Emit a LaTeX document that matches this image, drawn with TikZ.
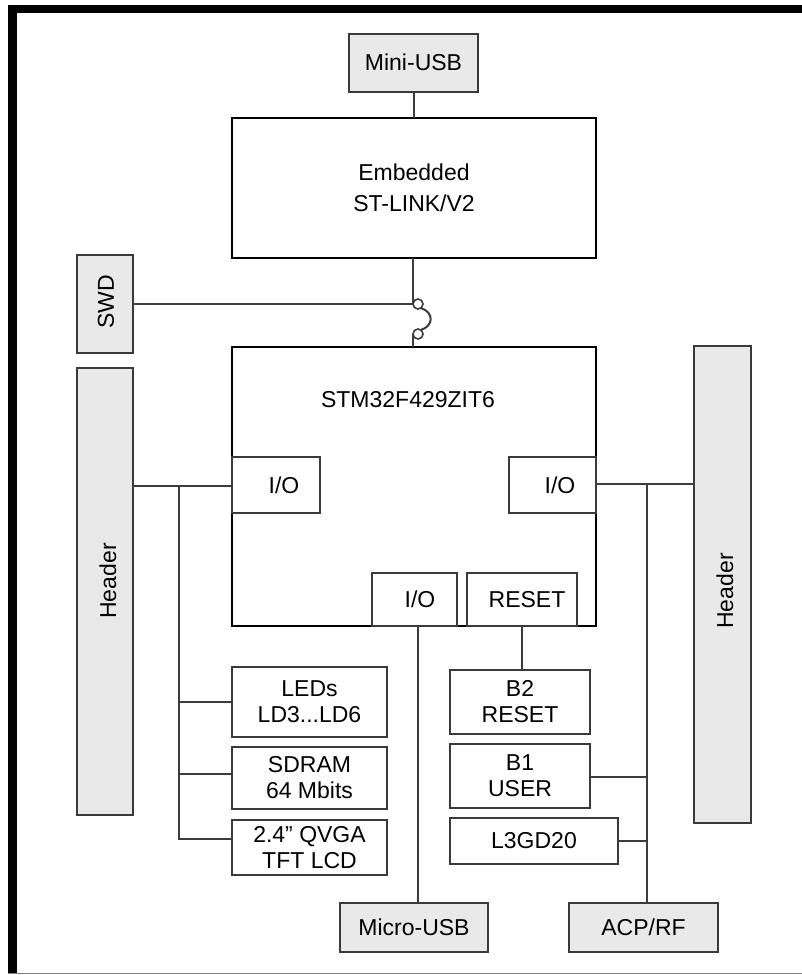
\documentclass[tikz,border=0pt]{standalone}
\usepackage{fontspec}
\setmainfont{Liberation Sans}
\definecolor{boxline}{HTML}{3A3A3A}
\definecolor{boxgrey}{HTML}{E9E9E9}
\definecolor{wirec}{HTML}{3C3C3C}
\begin{document}
\begin{tikzpicture}[x=1pt,y=-1pt,
  every node/.style={font=\fontsize{23}{26}\selectfont, text=black},
  box/.style={draw=boxline, line width=2pt, inner sep=0pt, outer sep=0pt, align=center, fill=white},
  gbox/.style={box, fill=boxgrey},
  mainbox/.style={box, draw=black, line width=2.2pt},
  wire/.style={draw=wirec, line width=2pt},
  jc/.style={circle, draw=wirec, line width=1.6pt, minimum size=10pt, inner sep=0pt, outer sep=0pt, fill=white},
  lbl/.style={inner sep=0pt}]
% canvas and frame
\fill[white] (0,0) rectangle (802,975);
\useasboundingbox (0,0) rectangle (802,975);
\fill[black] (8,5) rectangle (802,13);
\fill[black] (8,5) rectangle (17,973);
\draw[gray, line width=1pt] (8,973) -- (802,973);

% boxes
\node[gbox, minimum width=129pt, minimum height=58pt] (miniusb) at (413.5,62.5) {Mini-USB};
\node[mainbox, minimum width=364pt, minimum height=140pt] (emb) at (414,188) {};
\node[lbl, align=center, font=\fontsize{23}{31}\selectfont] (embtxt) at (414,188) {Embedded\\ST-LINK/V2};
\node[gbox, minimum width=56pt, minimum height=98pt] (swd) at (105,304) {};
\node[lbl, rotate=90] (swdtxt) at (106,302) {SWD};
\node[gbox, minimum width=56pt, minimum height=447pt] (hdrL) at (105,591.5) {};
\node[lbl, rotate=90] (hdrLtxt) at (108,581) {Header};
\node[mainbox, minimum width=364pt, minimum height=279pt] (stm) at (414,486.5) {};
\node[lbl] (stmtxt) at (408,400) {STM32F429ZIT6};
\node[box, minimum width=88pt, minimum height=56pt] (ioL) at (276,485) {\hspace{16pt}I/O};
\node[box, minimum width=87pt, minimum height=56pt] (ioR) at (552.5,485) {\hspace{15pt}I/O};
\node[box, minimum width=85pt, minimum height=53pt] (ioB) at (414.5,599.5) {\hspace{11pt}I/O};
\node[box, minimum width=110pt, minimum height=53pt] (rst) at (522,599.5) {\hspace{10pt}RESET};
\node[gbox, minimum width=57pt, minimum height=477pt] (hdrR) at (722.5,584.5) {};
\node[lbl, rotate=90] (hdrRtxt) at (725,591) {Header};

\node[box, minimum width=155pt, minimum height=70pt] (leds) at (309.5,702) {LEDs\\LD3...LD6};
\node[box, minimum width=155pt, minimum height=62pt] (sdram) at (309.5,778) {SDRAM\\64 Mbits};
\node[box, minimum width=155pt, minimum height=55pt] (lcd) at (309.5,847.5) {2.4\symbol{34} QVGA\\TFT LCD};
\node[gbox, minimum width=148pt, minimum height=49pt] (microusb) at (414,927.5) {Micro-USB};

\node[box, minimum width=140pt, minimum height=64pt] (b2) at (520,702) {B2\\RESET};
\node[box, minimum width=140pt, minimum height=64pt] (b1) at (520,776) {B1\\USER};
\node[box, minimum width=168pt, minimum height=46pt] (l3) at (534,841) {L3GD20};
\node[gbox, minimum width=149pt, minimum height=49pt] (acp) at (643.5,927.5) {ACP/RF};

% jumper
\node[jc] (c1) at (418,304) {};
\node[jc] (c2) at (418,334) {};
\coordinate (bl) at (179,486);
\coordinate (br) at (647,484);
\coordinate (sdb) at ([yshift=4pt]sdram.west);
\coordinate (lcdb) at ([yshift=8.5pt]lcd.west);
\coordinate (iob) at ([xshift=3pt]ioB.south);
\coordinate (b1b) at ([yshift=-1pt]b1.east);

% connectors
\draw[wire] (miniusb.south) -- (miniusb.south |- emb.north);
\draw[wire] (emb.south -| c1.west) -- (c1.west);
\draw[wire] (swd.east |- c1.west) -- (c1.west);
\draw[wire] (c1.-55) .. controls (434,312) and (434,326) .. (c2.55);
\draw[wire] (c2.west) -- (c2.west |- stm.north);

\draw[wire] (hdrL.east |- bl) -- (bl -| stm.west);
\draw[wire] (bl) |- (lcdb);
\draw[wire] (bl |- leds.west) -- (leds.west);
\draw[wire] (bl |- sdb) -- (sdb);

\draw[wire] (iob) -- (iob |- microusb.north);
\draw[wire] (rst.south) -- (rst.south |- b2.north);

\draw[wire] (br -| stm.east) -- (br -| hdrR.west);
\draw[wire] (br) -- (br |- acp.north);
\draw[wire] (b1b) -- (b1b -| br);
\draw[wire] (l3.east) -- (l3.east -| br);
\end{tikzpicture}
\end{document}
